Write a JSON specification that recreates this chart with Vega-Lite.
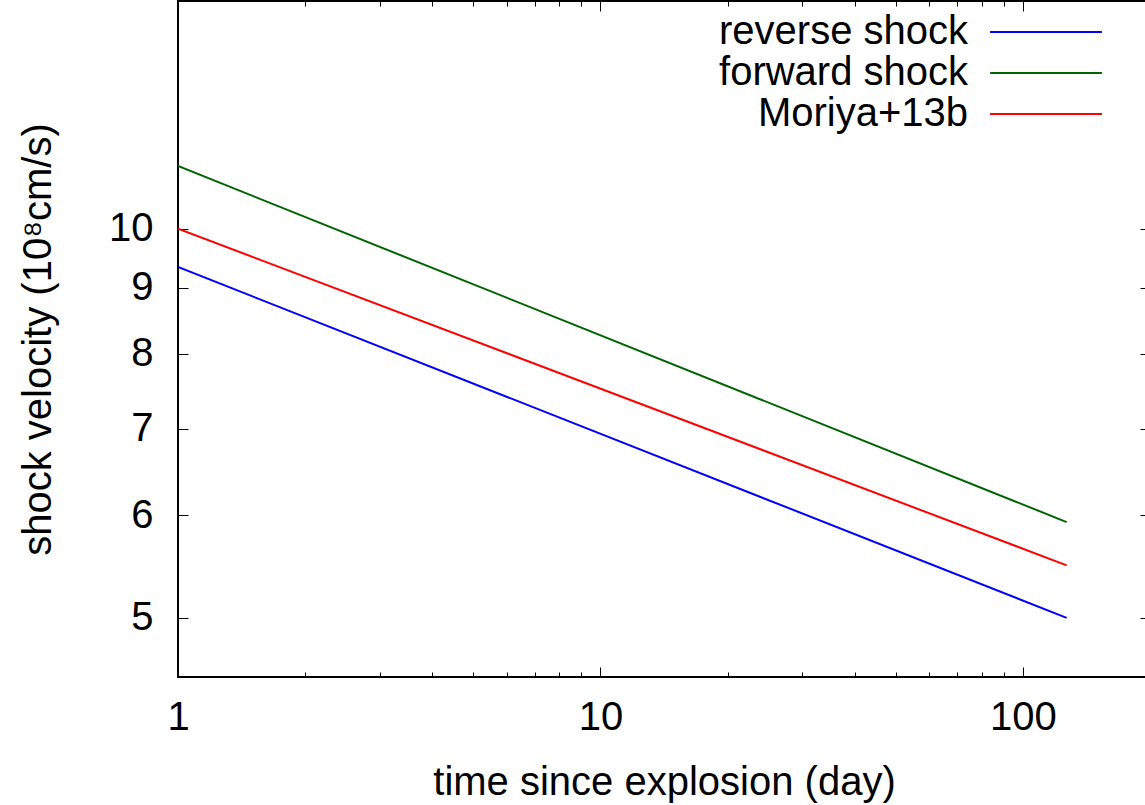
{
  "$schema": "https://vega.github.io/schema/vega-lite/v6.json",
  "width": 972,
  "height": 676,
  "autosize": "none",
  "padding": {"left": 178, "top": 1, "right": 0, "bottom": 128},
  "background": "white",
  "config": {
    "font": "Liberation Sans",
    "view": {"stroke": "black", "strokeWidth": 2},
    "axis": {
      "grid": false,
      "domain": false,
      "tickColor": "black",
      "tickWidth": 1,
      "labelColor": "black",
      "titleColor": "black",
      "labelFont": "Liberation Sans",
      "titleFont": "Liberation Sans",
      "titleFontWeight": "normal",
      "labelFontSize": 40,
      "titleFontSize": 40
    }
  },
  "data": {
    "values": [
      {"series": "reverse shock", "t": 1, "v": 9.34},
      {"series": "reverse shock", "t": 127, "v": 5.0},
      {"series": "forward shock", "t": 1, "v": 11.18},
      {"series": "forward shock", "t": 127, "v": 5.93},
      {"series": "Moriya+13b", "t": 1, "v": 10.0},
      {"series": "Moriya+13b", "t": 127, "v": 5.49}
    ]
  },
  "layer": [
    {
      "mark": {"type": "line", "strokeWidth": 2, "clip": true},
      "encoding": {
        "x": {
          "field": "t", "type": "quantitative",
          "scale": {"type": "log", "domain": [1, 200], "nice": false},
          "axis": {
            "orient": "bottom",
            "values": [1, 2, 3, 4, 5, 6, 7, 8, 9, 10, 20, 30, 40, 50, 60, 70, 80, 90, 100],
            "format": "d",
            "labelExpr": "(datum.value == 1 || datum.value == 10 || datum.value == 100) ? datum.label : ''",
            "labelOverlap": false,
            "labelFlush": false,
            "tickSize": {"condition": {"test": "datum.value == 1 || datum.value == 10 || datum.value == 100", "value": -10}, "value": -5},
            "labelPadding": 30,
            "title": "time since explosion (day)",
            "titlePadding": 20
          }
        },
        "y": {
          "field": "v", "type": "quantitative",
          "scale": {"type": "log", "domain": [4.5, 15], "nice": false},
          "axis": {
            "orient": "left",
            "values": [5, 6, 7, 8, 9, 10],
            "format": "d",
            "labelOverlap": false,
            "labelFlush": false,
            "tickSize": -10,
            "labelPadding": 35,
            "title": "shock velocity (10⁸cm/s)",
            "titlePadding": 50
          }
        },
        "color": {
          "field": "series", "type": "nominal",
          "scale": {"domain": ["reverse shock", "forward shock", "Moriya+13b"], "range": ["#0000ff", "#006400", "#ff0000"]},
          "legend": {
            "title": null,
            "orient": "none",
            "legendX": 848,
            "legendY": 11,
            "padding": 0,
            "rowPadding": 1,
            "symbolType": "M-5,0H5",
            "symbolSize": 500,
            "symbolStrokeWidth": 2,
            "labelFontSize": 40,
            "labelFont": "Liberation Sans",
            "labelColor": "black",
            "labelAlign": "right",
            "labelOffset": -98,
            "labelLimit": 0
          }
        }
      }
    },
    {
      "mark": {"type": "line", "opacity": 0},
      "encoding": {
        "x": {
          "field": "t", "type": "quantitative",
          "scale": {"type": "log", "domain": [1, 200], "nice": false},
          "axis": {
            "orient": "top",
            "values": [1, 2, 3, 4, 5, 6, 7, 8, 9, 10, 20, 30, 40, 50, 60, 70, 80, 90, 100],
            "labels": false,
            "tickSize": {"condition": {"test": "datum.value == 1 || datum.value == 10 || datum.value == 100", "value": -10}, "value": -5},
            "title": null
          }
        },
        "y": {
          "field": "v", "type": "quantitative",
          "scale": {"type": "log", "domain": [4.5, 15], "nice": false},
          "axis": {
            "orient": "right",
            "values": [5, 6, 7, 8, 9, 10],
            "labels": false,
            "tickSize": -10,
            "title": null
          }
        },
        "detail": {"field": "series"}
      }
    }
  ],
  "resolve": {"axis": {"x": "independent", "y": "independent"}}
}
